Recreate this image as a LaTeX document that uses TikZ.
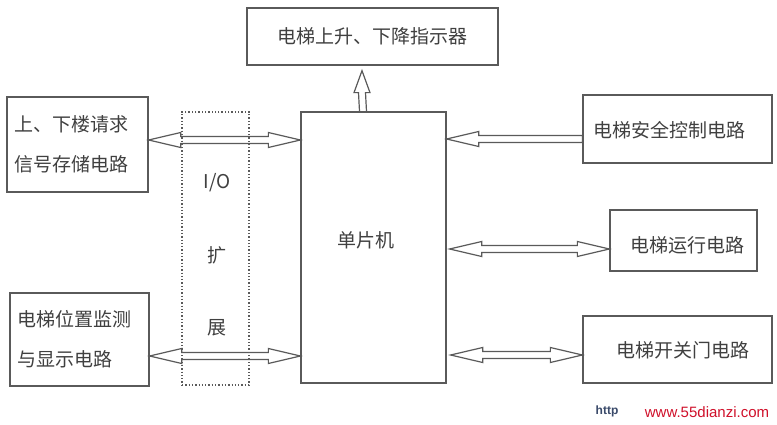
\documentclass[tikz,border=0pt]{standalone}
\usepackage{fontspec}
\newfontfamily\cjk{Noto Sans CJK SC}
\newfontfamily\latinsans{Liberation Sans}
\usetikzlibrary{calc}
\definecolor{linec}{HTML}{5A5A5A}
\definecolor{textc}{HTML}{404040}
\definecolor{wmred}{HTML}{D0102A}
\definecolor{wmblue}{HTML}{3A4A6A}
\tikzset{
  blk/.style={draw=linec, line width=1.3pt, inner sep=0pt, font=\cjk\fontsize{19}{23}\selectfont, text=textc},
  twoline/.style={align=left, text width=#1, font=\cjk\fontsize{19}{40}\selectfont},
  iobox/.style={draw=linec, line width=1.3pt, dotted, inner sep=0pt},
  iotext/.style={font=\cjk\fontsize{19}{23}\selectfont, text=textc},
  harrow/.style={draw=linec, line width=1.2pt, line join=miter}
}
% horizontal double hollow arrow between #1 (left) and #2 (right)
\newcommand{\dblHArrow}[2]{%
  \draw[harrow] (#1) -- ($(#1)+(32,-7.5)$) -- ($(#1)+(32,-3.5)$) -- ($(#2)+(-32,-3.5)$) -- ($(#2)+(-32,-7.5)$) -- (#2)
    -- ($(#2)+(-32,7.5)$) -- ($(#2)+(-32,3.5)$) -- ($(#1)+(32,3.5)$) -- ($(#1)+(32,7.5)$) -- cycle;}
% single hollow arrow with head at #1 (left) from #2 (right)
\newcommand{\sglHArrow}[2]{%
  \draw[harrow] (#1) -- ($(#1)+(32,-7.5)$) -- ($(#1)+(32,-3.5)$) -- ($(#2)+(0,-3.5)$) -- ($(#2)+(0,3.5)$)
    -- ($(#1)+(32,3.5)$) -- ($(#1)+(32,7.5)$) -- cycle;}
% vertical hollow arrow from #1 (bottom) with head at #2 (top)
\newcommand{\sglVArrow}[2]{%
  \draw[harrow] ($(#1)+(-3.5,0)$) -- ($(#2)+(-3.5,22)$) -- ($(#2)+(-8,22)$) -- (#2) -- ($(#2)+(8,22)$)
    -- ($(#2)+(3.5,22)$) -- ($(#1)+(3.5,0)$);}
\begin{document}
\begin{tikzpicture}[x=1pt,y=-1pt]
\useasboundingbox (0,0) rectangle (777,425);
\fill[white] (0,0) rectangle (777,425);

% blocks
\node[blk, minimum width=251pt, minimum height=57pt] (top) at (372.5,36.5) {电梯上升、下降指示器};
\node[blk, minimum width=145pt, minimum height=271pt] (mcu) at (373.5,247.5) {};
\node[iotext] (mcutxt) at (366,240) {单片机};
\node[blk, minimum width=141pt, minimum height=95pt, twoline=125pt, inner xsep=8pt] (lb1) at (77.5,144.5) {上、下楼请求\\信号存储电路};
\node[blk, minimum width=139pt, minimum height=93pt, twoline=125pt, inner xsep=7pt] (lb2) at (79.5,339.5) {电梯位置监测\\与显示电路};
\node[iotext] (io1) at (217,183) {I/O};
\node[iotext] (io2) at (217,255) {扩};
\node[iotext] (io3) at (217,328) {展};
\node[blk, minimum width=189pt, minimum height=68pt] (rb1) at (677.5,129) {};
\node[iotext] (rb1t) at (669,130) {电梯安全控制电路};
\node[blk, minimum width=147pt, minimum height=61pt] (rb2) at (683.5,240.5) {};
\node[iotext] (rb2t) at (687,245) {电梯运行电路};
\node[blk, minimum width=189pt, minimum height=67pt] (rb3) at (677.5,349.5) {};
\node[iotext] (rb3t) at (683,350) {电梯开关门电路};

% connector end points
\coordinate (a1l) at ($(lb1.east)+(0,-4.5)$);
\coordinate (a1r) at (a1l -| mcu.west);
\coordinate (a2l) at ($(lb2.east)+(0,16.5)$);
\coordinate (a2r) at (a2l -| mcu.west);
\coordinate (a3r) at ($(rb1.west)+(0,10)$);
\coordinate (a3l) at (a3r -| mcu.east);
\coordinate (a4r) at ($(rb2.west)+(0,8.5)$);
\coordinate (a4l) at ($(a4r -| mcu.east)+(3,0)$);
\coordinate (a5r) at ($(rb3.west)+(0,5.5)$);
\coordinate (a5l) at ($(a5r -| mcu.east)+(4,0)$);
\coordinate (a6b) at ($(mcu.north)+(-10.5,0)$);
\coordinate (a6t) at ($(top.south)+(-10.5,5)$);

% connectors
\dblHArrow{a1l}{a1r}
\dblHArrow{a2l}{a2r}
\sglHArrow{a3l}{a3r}
\dblHArrow{a4l}{a4r}
\dblHArrow{a5l}{a5r}
\sglVArrow{a6b}{a6t}

% I/O expansion dotted frame (drawn over the arrows)
\node[iobox, minimum width=67pt, minimum height=273pt] (io) at (215.5,248.5) {};

% watermark
\node[font=\latinsans\bfseries\fontsize{12}{14}\selectfont, text=wmblue] (wm1) at (607,411) {http};
\node[font=\latinsans\fontsize{15}{17}\selectfont, text=wmred] (wm2) at (707,412) {www.55dianzi.com};
\end{tikzpicture}
\end{document}
